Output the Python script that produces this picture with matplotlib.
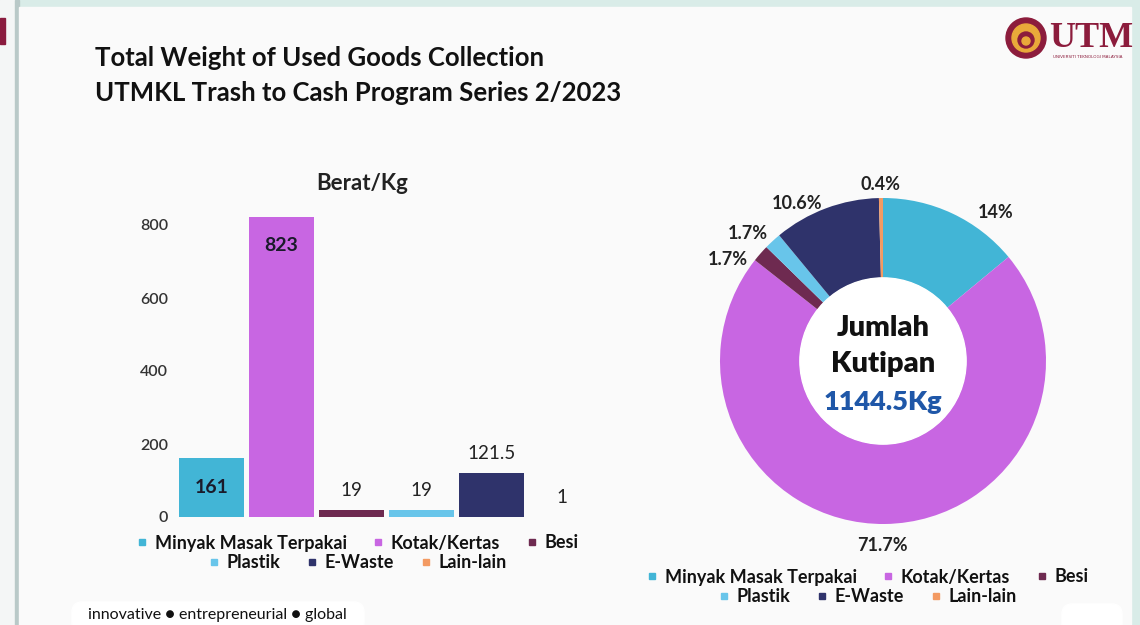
import matplotlib
matplotlib.use("Agg")
import matplotlib.pyplot as plt
from matplotlib.patches import Rectangle, FancyBboxPatch, Circle
from matplotlib.lines import Line2D
import numpy as np

# ---- data ----
categories = ["Minyak Masak Terpakai", "Kotak/Kertas", "Besi", "Plastik", "E-Waste", "Lain-lain"]
weights_kg = [161, 823, 19, 19, 121.5, 1]
share_pct = [14, 71.7, 1.7, 1.7, 10.6, 0.4]
total_label = "1144.5Kg"
colors = ["#42b5d6", "#c866e2", "#6e2a50", "#68c5ea", "#2f336b", "#f39a62"]
yticks = [0, 200, 400, 600, 800]

W, H = 1140, 625
fig = plt.figure(figsize=(W / 100, H / 100), dpi=100)
fig.patch.set_facecolor("#d9ece8")

FONT = "Lato"

def fx(px):
    return px / W

def fy(py):
    return 1 - py / H

# ---- slide background / frame ----
bg = fig.add_axes([0, 0, 1, 1])
bg.set_xlim(0, W)
bg.set_ylim(H, 0)
bg.axis("off")
bg.add_patch(Rectangle((0, 0), 15, H, color="#f4f6f6", zorder=0))
bg.add_patch(Rectangle((15, 0), 4, H, color="#b9c9c8", zorder=0))
bg.add_patch(Rectangle((0, 18), 5, 26, color="#8a1c3f", zorder=1))
bg.add_patch(Rectangle((19, 7), 1112, H - 7, color="#fafafa", zorder=0))
bg.add_patch(FancyBboxPatch((72, 602), 292, 30, boxstyle="round,pad=0,rounding_size=10",
                            color="white", zorder=1))
bg.add_patch(FancyBboxPatch((1062, 604), 60, 30, boxstyle="round,pad=0,rounding_size=10",
                            color="white", zorder=1))

# logo
bg.add_patch(Circle((1026, 38), 20, color="#8c1c3c", zorder=2))
bg.add_patch(Circle((1026, 38), 14, color="#e9a93a", zorder=3))
bg.add_patch(Circle((1026, 40), 8, color="#8c1c3c", zorder=4))
bg.add_patch(Circle((1026, 41), 4, color="#e9a93a", zorder=5))
bg.text(1049, 47, "UTM", fontsize=26, fontweight="bold", family="Liberation Serif",
        color="#8c1c3c", va="baseline", ha="left", zorder=5)
bg.text(1053, 58, "UNIVERSITI TEKNOLOGI MALAYSIA", fontsize=3, family="DejaVu Sans",
        color="#8c1c3c", va="baseline", ha="left", zorder=5)

# title
fig.text(fx(95), fy(66), "Total Weight of Used Goods Collection", fontsize=18.5,
         fontweight="bold", family=FONT, color="#111111", va="baseline")
fig.text(fx(95), fy(101), "UTMKL Trash to Cash Program Series 2/2023", fontsize=18.5,
         fontweight="bold", family=FONT, color="#111111", va="baseline")

# footer
fig.text(fx(88), fy(619), "innovative \u25cf entrepreneurial \u25cf global", fontsize=11.5,
         family=FONT, color="#111111", va="baseline")

# ---- bar chart ----
px_per_unit = 70.0
ymax = 850
y0_px, y800_px = 517, 225
scale = (y0_px - y800_px) / 800
ax_left = 179 + 0.465 * px_per_unit - 0.5 * px_per_unit
ax_top = y0_px - ymax * scale
ax_w = 6 * px_per_unit
ax = fig.add_axes([fx(ax_left), fy(y0_px), ax_w / W, (y0_px - ax_top) / H])
ax.set_facecolor("none")
x = np.arange(len(categories))
bars = ax.bar(x, weights_kg, width=0.93, color=colors)
ax.set_xlim(-0.5, len(categories) - 0.5)
ax.set_ylim(0, ymax)
ax.set_yticks(yticks)
ax.set_yticklabels([str(t) for t in yticks], family=FONT, fontsize=11.5,
                   fontweight="semibold", color="#333333")
ax.tick_params(axis="y", length=0, pad=6)
ax.set_xticks([])
for s in ax.spines.values():
    s.set_visible(False)
ax.set_title("Berat/Kg", family=FONT, fontweight="bold", fontsize=16, color="#222222",
             pad=12, x=(362 - ax_left) / ax_w)

for i, (b, v) in enumerate(zip(bars, weights_kg)):
    cx = b.get_x() + b.get_width() / 2
    label = f"{v:g}"
    if v > 800:
        ax.text(cx, v - 80, label, ha="center", va="center", family=FONT,
                fontweight="bold", fontsize=14, color="#1a1a2a")
    elif v > 150:
        ax.text(cx, v / 2, label, ha="center", va="center", family=FONT,
                fontweight="bold", fontsize=14, color="#1a1a2a")
    else:
        ax.annotate(label, (cx, v), xytext=(0, 14), textcoords="offset points",
                    ha="center", va="center", family=FONT, fontsize=13.5, color="#222222")


def two_row_legend(cx_px, row_ys):
    rows = [range(0, 3), range(3, 6)]
    for rr, ry in zip(rows, row_ys):
        handles = [Line2D([], [], marker="s", linestyle="none", markersize=4,
                          markerfacecolor=colors[i], markeredgecolor=colors[i]) for i in rr]
        leg = fig.legend(handles, [categories[i] for i in rr], loc="center",
                         bbox_to_anchor=(fx(cx_px), fy(ry)), ncol=3, frameon=False,
                         handlelength=0.5, handletextpad=0.45, columnspacing=1.5,
                         borderpad=0, prop={"family": FONT, "weight": "bold", "size": 13})
        for t in leg.get_texts():
            t.set_color("#111111")


two_row_legend(358, [543, 563])

# ---- donut chart ----
pcx, pcy, R = 883, 361, 163
pax = fig.add_axes([fx(pcx - R), fy(pcy + R), 2 * R / W, 2 * R / H])
wedges, _ = pax.pie(share_pct, colors=colors, startangle=90, counterclock=False,
                    radius=1.0, wedgeprops=dict(width=0.49, edgecolor="none"))
pax.set_xlim(-1, 1)
pax.set_ylim(-1, 1)
pax.set_aspect("equal")
pax.axis("off")
pax.add_patch(Circle((0, 0), 0.51, color="white", zorder=3))

# label angle nudges keep the narrow slices' labels apart
angle_nudge = [-12, -1, 8, 4, 8, 0]
label_r = [1.14, 1.13, 1.14, 1.14, 1.10, 1.08]
for w, p, dn, lr in zip(wedges, share_pct, angle_nudge, label_r):
    mid = (w.theta1 + w.theta2) / 2 + dn
    ang = np.deg2rad(mid)
    pax.text(lr * np.cos(ang), lr * np.sin(ang), f"{p:g}%", ha="center", va="center",
             family=FONT, fontweight="bold", fontsize=13, color="#222222", clip_on=False)

pax.text(0, 0.205, "Jumlah", ha="center", va="center", family=FONT, fontweight="heavy",
         fontsize=21, color="#111111", zorder=5)
pax.text(0, -0.02, "Kutipan", ha="center", va="center", family=FONT, fontweight="heavy",
         fontsize=21, color="#111111", zorder=5)
pax.text(0, -0.25, total_label, ha="center", va="center", family=FONT, fontweight="heavy",
         fontsize=19.5, color="#1f57a8", zorder=5)

two_row_legend(868, [577, 597])

fig.savefig("out.png", dpi=100, facecolor=fig.get_facecolor())
